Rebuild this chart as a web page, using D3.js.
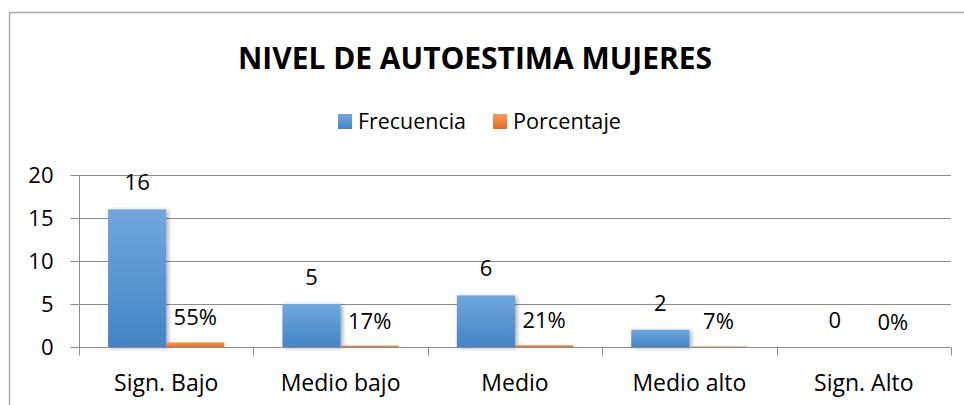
<!DOCTYPE html>
<html><head><meta charset="utf-8">
<script src="https://cdn.jsdelivr.net/npm/d3@7"></script>
<style>
html,body{margin:0;padding:0;background:#fff;}
svg{display:block;font-family:"Open Sans",sans-serif;}
</style></head>
<body>
<svg id="chart" width="964" height="405"></svg>
<script>
const title = "NIVEL DE AUTOESTIMA MUJERES";
const categories = ["Sign. Bajo","Medio bajo","Medio","Medio alto","Sign. Alto"];
const seriesNames = ["Frecuencia","Porcentaje"];
const frecuencia = [16,5,6,2,0];
const porcentaje = [0.55,0.17,0.21,0.07,0];
const porcentajeLabels = ["55%","17%","21%","7%","0%"];
const yTicks = [0,5,10,15,20];

const svg = d3.select("#chart");
const defs = svg.append("defs");
function grad(id, c1, c2){
  const g = defs.append("linearGradient").attr("id",id).attr("x1",0).attr("y1",0).attr("x2",0).attr("y2",1);
  g.append("stop").attr("offset","0%").attr("stop-color",c1);
  g.append("stop").attr("offset","100%").attr("stop-color",c2);
}
grad("gBlue","#72a7dd","#4384c7");
grad("gOrange","#f79a5a","#e46d22");
const f = defs.append("filter").attr("id","shadow").attr("x","-30%").attr("y","-30%").attr("width","160%").attr("height","160%");
f.append("feGaussianBlur").attr("in","SourceAlpha").attr("stdDeviation",2.2).attr("result","b");
f.append("feOffset").attr("in","b").attr("dx",1.5).attr("dy",1).attr("result","o");
f.append("feComponentTransfer").attr("in","o").attr("result","s").append("feFuncA").attr("type","linear").attr("slope",0.35);
const m = f.append("feMerge"); m.append("feMergeNode").attr("in","s"); m.append("feMergeNode").attr("in","SourceGraphic");

// outer border (cropped on right/bottom)
svg.append("rect").attr("x",9.5).attr("y",12.5).attr("width",1000).attr("height",500)
  .attr("fill","none").attr("stroke","#a9a9a9").attr("stroke-width",1.5);

const x = d3.scaleBand().domain(categories).range([79,951]).padding(0);
const xs = d3.scaleBand().domain(seriesNames).range([0,x.bandwidth()]).paddingInner(0).paddingOuter(0.5);
const y = d3.scaleLinear().domain([0,20]).range([347,175]);

// gridlines
svg.append("g").selectAll("line").data(yTicks.filter(d=>d>0)).join("line")
  .attr("x1",79).attr("x2",951).attr("y1",d=>Math.round(y(d))+0.5).attr("y2",d=>Math.round(y(d))+0.5)
  .attr("stroke","#8c8c8c").attr("stroke-width",1);

// y axis
const yAxis = svg.append("g").attr("transform","translate(79.5,0)")
  .call(d3.axisLeft(y).tickValues(yTicks).tickSize(9).tickPadding(17));
yAxis.select(".domain").attr("stroke","#8c8c8c").attr("d","M0,"+y(20)+"V"+y(0));
yAxis.selectAll(".tick line").attr("stroke","#8c8c8c");
yAxis.selectAll(".tick").attr("transform",d=>"translate(0,"+(Math.round(y(d))+0.5)+")");
yAxis.selectAll("text").attr("font-family","Open Sans").attr("font-size",22).attr("fill","#000");

// bars
const groups = svg.append("g").selectAll("g").data(categories).join("g")
  .attr("transform",d=>"translate("+x(d)+",0)");
groups.append("rect").attr("class","fb")
  .attr("x",xs("Frecuencia")).attr("width",xs.bandwidth())
  .attr("y",(d,i)=>y(frecuencia[i])).attr("height",(d,i)=>y(0)-y(frecuencia[i]))
  .attr("fill","url(#gBlue)").attr("filter",(d,i)=>frecuencia[i]>0?"url(#shadow)":null)
  .style("display",(d,i)=>frecuencia[i]>0?null:"none");
groups.append("rect").attr("class","pb")
  .attr("x",xs("Porcentaje")).attr("width",xs.bandwidth())
  .attr("y",(d,i)=>y(porcentaje[i])).attr("height",(d,i)=>y(0)-y(porcentaje[i]))
  .attr("fill","url(#gOrange)")
  .style("display",(d,i)=>porcentaje[i]>0?null:"none");

// x axis
const xAxisG = svg.append("g").attr("transform","translate(0,"+(Math.round(y(0))+0.5)+")");
xAxisG.append("line").attr("x1",79).attr("x2",951).attr("stroke","#8c8c8c");
xAxisG.selectAll("line.t").data(categories.concat(["end"])).join("line").attr("class","t")
  .attr("x1",(d,i)=>i<categories.length?Math.round(x(d))+0.5:951.5)
  .attr("x2",(d,i)=>i<categories.length?Math.round(x(d))+0.5:951.5)
  .attr("y1",0).attr("y2",8).attr("stroke","#8c8c8c");
xAxisG.selectAll("text").data(categories).join("text")
  .attr("x",d=>x(d)+x.bandwidth()/2).attr("y",43)
  .attr("text-anchor","middle").attr("font-size",23).attr("fill","#000").text(d=>d);

// data labels
groups.append("text").attr("x",xs("Frecuencia")+xs.bandwidth()/2)
  .attr("y",(d,i)=>y(frecuencia[i])-19).attr("text-anchor","middle")
  .attr("font-size",22).attr("fill","#000").text((d,i)=>frecuencia[i]);
groups.append("text").attr("x",xs("Porcentaje")+xs.bandwidth()/2)
  .attr("y",(d,i)=>y(porcentaje[i])-17).attr("text-anchor","middle")
  .attr("font-size",22).attr("fill","#000").text((d,i)=>porcentajeLabels[i]);

// title
svg.append("text").attr("x",475).attr("y",69).attr("text-anchor","middle")
  .attr("font-size",31).attr("font-weight","bold").attr("fill","#000")
  .attr("textLength",474).attr("lengthAdjust","spacingAndGlyphs").text(title);

// legend
const legend = [{name:seriesNames[0],fill:"url(#gBlue)",x:338},{name:seriesNames[1],fill:"url(#gOrange)",x:493}];
const lg = svg.append("g").selectAll("g").data(legend).join("g").attr("transform",d=>"translate("+d.x+",114)");
lg.append("rect").attr("width",14).attr("height",15).attr("fill",d=>d.fill);
lg.append("text").attr("x",20).attr("y",14.5).attr("font-size",22).attr("fill","#000")
  .attr("textLength",108).attr("lengthAdjust","spacingAndGlyphs").text(d=>d.name);
</script>
</body></html>
